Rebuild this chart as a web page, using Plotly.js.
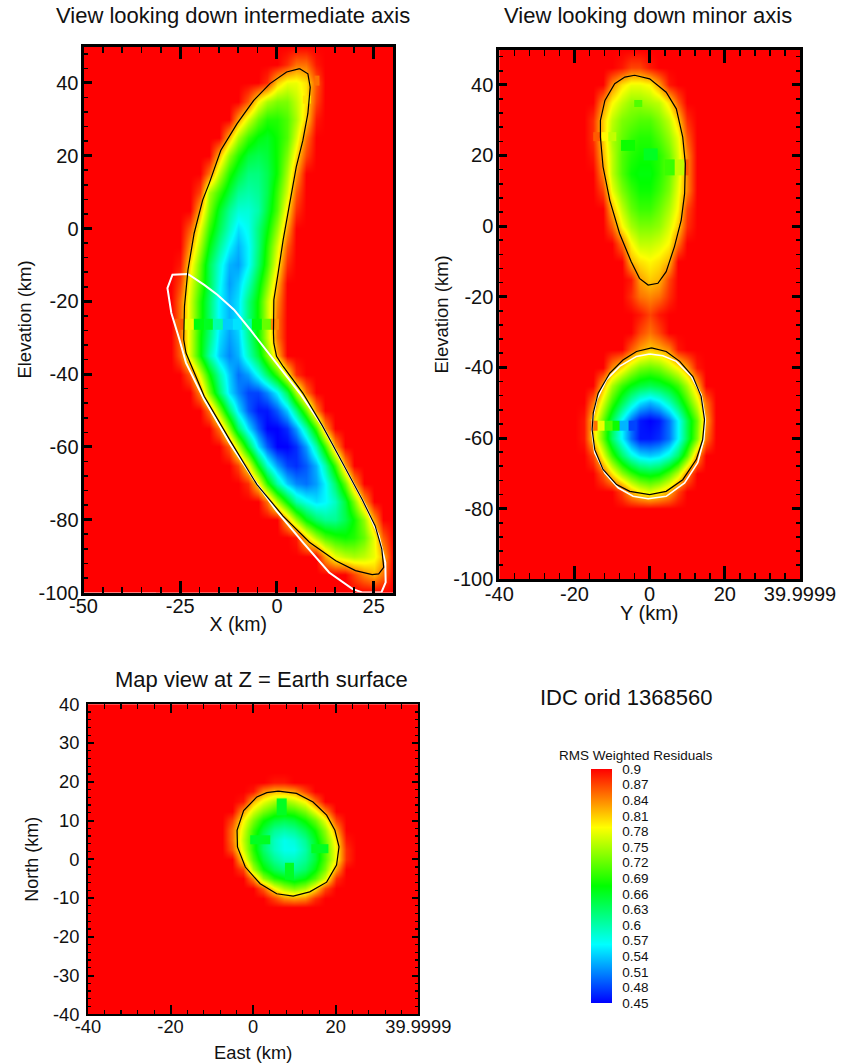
<!DOCTYPE html>
<html><head><meta charset="utf-8">
<script src="https://cdn.plot.ly/plotly-3.0.1.min.js"></script>
<style>html,body{margin:0;padding:0;background:#fff}</style></head>
<body><div id="chart" style="width:850px;height:1063px"></div>
<script>
// Colour legend
const legendTicks = [0.9,0.87,0.84,0.81,0.78,0.75,0.72,0.69,0.66,0.63,0.6,0.57,0.54,0.51,0.48,0.45];
const legendTitle = 'RMS Weighted Residuals';
const rainbow = [[0,'#0000ff'],[0.25,'#00ffff'],[0.5,'#00ff00'],[0.75,'#ffff00'],[1,'#ff0000']];

// Panel 1: X / elevation, residuals x100
const p1X = [-30,-27.5,-25,-22.5,-20,-17.5,-15,-12.5,-10,-7.5,-5,-2.5,0,2.5,5,7.5,10,12.5,15,17.5,20,22.5,25,27.5,30];
const p1Y = [50,45,40,35,30,25,20,15,10,5,0,-5,-10,-15,-20,-25,-30,-35,-40,-45,-50,-55,-60,-65,-70,-75,-80,-85,-90,-95,-100];
const p1Z = [
[90,90,90,90,90, 90,90,90,90,90, 90,90,90,90,90, 90,90,90,90,90, 90,90,90,90,90],
[90,90,90,90,90, 90,90,90,90,90, 90,90,90,88,85, 85,89,90,90,90, 90,90,90,90,90],
[90,90,90,90,90, 90,90,90,90,90, 90,88,81,78,78, 80,86,90,90,90, 90,90,90,90,90],
[90,90,90,90,90, 90,90,90,90,86, 79,75,73,73,76, 80,87,90,90,90, 90,90,90,90,90],
[90,90,90,90,90, 90,90,90,83,77, 72,69,69,71,75, 81,89,90,90,90, 90,90,90,90,90],
[90,90,90,90,90, 90,90,82,75,70, 67,66,68,71,77, 85,90,90,90,90, 90,90,90,90,90],
[90,90,90,90,90, 90,82,74,69,65, 64,65,68,73,80, 87,90,90,90,90, 90,90,90,90,90],
[90,90,90,90,90, 85,76,69,65,62, 62,64,68,75,83, 90,90,90,90,90, 90,90,90,90,90],
[90,90,90,90,87, 75,70,65,61,60, 61,64,70,77,86, 90,90,90,90,90, 90,90,90,90,90],
[90,90,90,90,82, 73,66,61,58,58, 60,65,71,80,88, 90,90,90,90,90, 90,90,90,90,90],
[90,90,90,86,78, 70,64,59,55,57, 62,67,74,83,90, 90,90,90,90,90, 90,90,90,90,90],
[90,90,90,83,75, 67,61,56,53,56, 62,69,77,86,90, 90,90,90,90,90, 90,90,90,90,90],
[90,90,89,80,72, 64,58,53,52,56, 63,70,79,88,90, 90,90,90,90,90, 90,90,90,90,90],
[90,90,87,78,71, 64,57,52,54,59, 66,73,82,90,90, 90,90,90,90,90, 90,90,90,90,90],
[90,90,85,77,69, 63,56,53,55,62, 68,76,84,90,90, 90,90,90,90,90, 90,90,90,90,90],
[90,90,85,77,69, 63,56,53,55,62, 68,76,85,90,90, 90,90,90,90,90, 90,90,90,90,90],
[90,90,85,77,68, 62,55,52,54,61, 68,76,85,90,90, 90,90,90,90,90, 90,90,90,90,90],
[90,90,86,77,68, 60,54,51,53,59, 65,73,82,90,90, 90,90,90,90,90, 90,90,90,90,90],
[90,90,90,86,77, 68,60,54,50,52, 57,63,70,79,88, 90,90,90,90,90, 90,90,90,90,90],
[90,90,90,90,84, 73,63,55,51,48, 48,51,56,64,75, 85,90,90,90,90, 90,90,90,90,90],
[90,90,90,90,90, 85,74,63,55,49, 46,46,49,54,62, 72,84,90,90,90, 90,90,90,90,90],
[90,90,90,90,90, 90,85,74,63,55, 49,45,45,47,52, 60,70,83,90,90, 90,90,90,90,90],
[90,90,90,90,90, 90,90,86,76,65, 55,49,45,45,47, 52,60,70,83,90, 90,90,90,90,90],
[90,90,90,90,90, 90,90,90,87,79, 67,58,52,48,47, 49,53,60,70,83, 90,90,90,90,90],
[90,90,90,90,90, 90,90,90,90,88, 80,69,60,54,51, 50,52,56,63,72, 83,90,90,90,90],
[90,90,90,90,90, 90,90,90,90,90, 90,85,75,67,60, 57,55,56,59,65, 73,83,90,90,90],
[90,90,90,90,90, 90,90,90,90,90, 90,90,90,82,74, 67,63,61,61,64, 68,74,83,90,90],
[90,90,90,90,90, 90,90,90,90,90, 90,90,90,90,89, 81,75,71,69,68, 69,72,78,86,90],
[90,90,90,90,90, 90,90,90,90,90, 90,90,90,90,90, 90,90,83,78,76, 75,76,78,82,90],
[90,90,90,90,90, 90,90,90,90,90, 90,90,90,90,90, 90,90,90,90,90, 87,84,82,85,90],
[90,90,90,90,90, 90,90,90,90,90, 90,90,90,90,90, 90,90,90,90,90, 90,90,90,90,90]
];
const p1BlackX = [5.9,2.5,-1.8,-6,-10.3,-14.5,-17.5,-19.2,-21.4,-23,-23.9,-24.1,-23.5,-18.8,-12,-5.2,1.6,8.4,15.2,20.3,24.6,26.3,27.6,27.1,25.4,22,16.9,11.8,6.7,1.6,-0.1,-0.8,-0.9,-0.8,0.3,1.6,3.3,5,6.7,8,8.6,8,5.9];
const p1BlackY = [43.9,43,39.8,35.2,28.8,21.5,12.4,7.8,-1.3,-11.4,-21.4,-30.5,-34.2,-46.1,-58.4,-70.3,-79,-86.2,-91.3,-94,-95.1,-94.9,-93.1,-88.1,-81.7,-74.4,-64.3,-54.3,-45.2,-37.9,-35.1,-31.5,-28.7,-19.6,-12.3,-3.2,6.9,16.9,24.2,31.6,38.8,42.5,43.9];
const p1WhiteX = [-23,-27,-28.3,-27.3,-25.2,-23.5,-18.8,-12,-6,-0.1,6.7,13.5,19.5,22,27,28.1,28,26.3,22.9,17.8,11.8,5.9,-0.1,-6.9,-11.1,-15.4,-18.8,-23];
const p1WhiteY = [-12.5,-12.7,-16.4,-23.2,-30.5,-36.9,-47,-59.3,-68.9,-77.6,-86.2,-94.5,-99,-100,-100,-97.2,-91.7,-84.4,-76.2,-66.2,-54.3,-45.2,-36.9,-27.8,-22.3,-18.2,-15.5,-12.5];
// Blocky lines and cells that stand out from the smooth field (edges, then value)
const p1StripX = [-26.4,-24,-21.5,-19,-16.5,-14,-11.5,-9,-6.5,-4,-1.5,0.5];
const p1StripY = [-27.8,-24.8];
const p1StripZ = [[86,78,67,66,60,54,55,60,67,72,84]];
const p1Cell1X = [9.7,11.1], p1Cell1Y = [39.3,42], p1Cell1Z = [[85]];
const p1Cell2X = [6.7,8.7], p1Cell2Y = [34.3,36.5], p1Cell2Z = [[80]];

// Panel 2: Y / elevation, residuals x100
const p2X = [-20,-17.5,-15,-12.5,-10,-7.5,-5,-2.5,0,2.5,5,7.5,10,12.5,15,17.5,20];
const p2Y = [50,45,40,35,30,25,20,15,10,5,0,-5,-10,-15,-20,-25,-30,-35,-40,-45,-50,-55,-60,-65,-70,-75,-80];
const p2Z = [
[90,90,90,90,90,90,90,90,90,90,90,90,90,90,90,90,90],
[90,90,90,90,90,89,87,87,89,90,90,90,90,90,90,90,90],
[90,90,90,90,84,80,78,78,79,83,89,90,90,90,90,90,90],
[90,90,90,84,79,76,74,74,75,76,80,86,90,90,90,90,90],
[90,90,88,81,76,73,72,71,71,73,76,81,88,90,90,90,90],
[90,90,88,81,75,72,70,69,69,71,74,78,86,90,90,90,90],
[90,90,89,82,76,71,69,68,68,69,72,77,84,90,90,90,90],
[90,90,90,84,76,71,68,67,67,69,72,77,84,90,90,90,90],
[90,90,90,87,78,73,70,68,68,70,73,78,84,90,90,90,90],
[90,90,90,90,82,76,72,70,70,72,75,79,87,90,90,90,90],
[90,90,90,90,86,79,75,73,73,74,77,81,88,90,90,90,90],
[90,90,90,90,90,85,79,76,76,77,79,85,90,90,90,90,90],
[90,90,90,90,90,90,82,80,79,80,82,90,90,90,90,90,90],
[90,90,90,90,90,90,89,83,81,82,87,90,90,90,90,90,90],
[90,90,90,90,90,90,88,85,84,85,88,90,90,90,90,90,90],
[90,90,90,90,90,90,90,89,87,89,90,90,90,90,90,90,90],
[90,90,90,90,90,90,90,87,85,87,90,90,90,90,90,90,90],
[90,90,90,90,90,90,86,83,81,82,84,89,90,90,90,90,90],
[90,90,90,90,84,80,76,73,72,73,76,79,83,89,90,90,90],
[90,90,90,82,75,70,67,65,64,65,67,70,75,82,90,90,90],
[90,90,85,77,70,64,59,55,53,55,59,64,70,77,85,90,90],
[90,89,81,72,64,56,50,46,45,46,50,56,64,72,83,90,90],
[90,89,81,72,63,56,50,46,46,47,50,56,64,73,85,90,90],
[90,90,87,78,70,63,58,55,54,55,58,63,71,83,90,90,90],
[90,90,90,86,80,74,70,67,66,67,71,76,84,90,90,90,90],
[90,90,90,90,90,87,82,79,77,79,82,87,90,90,90,90,90],
[90,90,90,90,90,90,90,90,90,90,90,90,90,90,90,90,90]
];
const p2UpperX = [-4,0,4.4,7.1,8.8,9.5,9.3,8.4,6.6,4.4,2.2,-0.4,-2.7,-4.9,-8,-10.6,-12.4,-13.1,-13.1,-11.9,-9.3,-6.6,-4];
const p2UpperY = [42.7,41.7,37.9,33.2,25.2,17.7,9.2,1.7,-5.8,-12.9,-16.2,-16.7,-14.8,-10.1,-2.1,7.3,16.8,25.2,29.9,35.6,40.3,42.2,42.7];
const p2LowerX = [0.5,-3.5,-7.1,-10.6,-13.7,-15,-15.3,-14.6,-12.4,-8.8,-5.3,0,4.4,8.8,12.4,14.1,14.6,13.7,11.5,8,4.4,0.5];
const p2LowerY = [-34.5,-35.5,-37.9,-41.6,-47.3,-52.9,-57.6,-63.3,-68.9,-73.2,-75.1,-76,-75.1,-71.8,-66.1,-60.5,-54.8,-48.2,-42.6,-38.3,-35.5,-34.5];
const p2WhiteX = [0,-3.5,-8,-11.5,-14.1,-15.2,-15.3,-14.6,-11.9,-8.4,-4.4,-0.4,4.4,9.3,12.8,14.4,14.8,13.7,11.1,7.1,3.5,0];
const p2WhiteY = [-36.2,-36.9,-39.7,-43.5,-49.2,-54.8,-58.6,-64.2,-69.9,-74.1,-76.5,-77.2,-76.5,-72.7,-67,-60.5,-54.8,-47.7,-42.6,-38.3,-36.7,-36.2];
const p2StripX = [-16,-14,-12,-10,-8,-5.7,-3.4];
const p2StripY = [-58,-55.1];
const p2StripZ = [[85,78,71,68,53,48]];
const p2Band1X = [-15,-13,-11,-8.8], p2Band1Y = [24,26.6], p2Band1Z = [[86,79,76]];
const p2Band2X = [4,6.6,9.3,10.5], p2Band2Y = [14.5,18.9], p2Band2Z = [[70,76,86]];
const p2Cell1X = [-7.6,-3.9], p2Cell1Y = [21.4,24.4], p2Cell1Z = [[68]];
const p2Cell2X = [-1.6,2.2], p2Cell2Y = [18.6,22], p2Cell2Z = [[66]];
const p2Cell3X = [-4.1,-2], p2Cell3Y = [33.7,35.7], p2Cell3Z = [[71]];

// Panel 3: map view, residuals x100
const p3X = [-7.5,-5,-2.5,0,2.5,5,7.5,10,12.5,15,17.5,20,22.5,25];
const p3Y = [22.5,20,17.5,15,12.5,10,7.5,5,2.5,0,-2.5,-5,-7.5,-10,-12.5];
const p3Z = [
[90,90,90,90,90,90,90,90,90,90,90,90,90,90],
[90,90,90,90,90,89,89,90,90,90,90,90,90,90],
[90,90,90,89,84,82,82,83,87,90,90,90,90,90],
[90,90,89,82,78,75,74,76,79,85,90,90,90,90],
[90,90,83,77,73,70,69,70,73,78,84,90,90,90],
[90,87,79,73,68,65,64,65,68,72,78,87,90,90],
[90,85,77,70,65,61,60,61,64,68,74,83,90,90],
[90,85,76,69,63,59,57,58,61,66,72,80,89,90],
[90,86,77,69,63,59,57,57,60,65,71,79,88,90],
[90,90,80,71,65,61,59,59,61,65,71,79,88,90],
[90,90,87,75,68,64,62,61,63,67,73,83,90,90],
[90,90,90,84,74,69,67,65,67,71,77,88,90,90],
[90,90,90,90,86,79,75,73,75,80,87,90,90,90],
[90,90,90,90,90,87,84,83,84,88,90,90,90,90],
[90,90,90,90,90,90,90,90,90,90,90,90,90,90]
];
const p3BlackX = [6.1,10.5,14.5,17.8,19.8,20.8,20.2,17.8,13.7,9.7,5.7,1.7,-1.9,-3.8,-3.9,-2.3,0.9,3.3,6.1];
const p3BlackY = [17.6,17,14.8,11.4,7.5,3.2,-1.5,-5.9,-8.4,-9.5,-8.9,-6.3,-2,3.2,7.5,12.6,16.1,17.2,17.6];
const p3Cell1X = [5.7,8.1], p3Cell1Y = [11.4,15.7], p3Cell1Z = [[66]];
const p3Cell2X = [-0.7,4.1], p3Cell2Y = [3.9,6.2], p3Cell2Z = [[66]];
const p3Cell3X = [14.1,18.2], p3Cell3Y = [1.6,3.9], p3Cell3Z = [[66]];
const p3Cell4X = [7.7,9.9], p3Cell4Y = [-5.4,-0.9], p3Cell4Z = [[66]];

// Tick labels
const p1XTicks = [-50,-25,0,25];
const p1YTicks = [40,20,0,-20,-40,-60,-80,-100];
const p2XTicks = [-40,-20,0,20,40];
const p2XLabels = ['-40','-20','0','20','39.9999'];
const p3YTicks = [40,30,20,10,0,-10,-20,-30,-40];

const W = 850, H = 1063, FONT = '"Liberation Sans", Arial, sans-serif';
const scaled = z => z.map(r => r.map(v => v / 100));
const heat = (x, y, z, xa, ya, extra) => Object.assign({type:'heatmap', x, y, z:scaled(z), xaxis:xa, yaxis:ya,
  zmin:0.45, zmax:0.9, colorscale:rainbow, zsmooth:'best', showscale:false, hoverinfo:'skip'}, extra||{});
const block = (x, y, z, xa, ya) => heat(x, y, z, xa, ya, {zsmooth:false});
const line = (x, y, xa, ya, color, width) => ({type:'scatter', mode:'lines', x, y, xaxis:xa, yaxis:ya,
  line:{color, width}, hoverinfo:'skip', showlegend:false});

const traces = [
  heat(p1X, p1Y, p1Z, 'x', 'y', {showscale:true, colorbar:{
    x:591/W, xanchor:'left', y:1-769/H, yanchor:'top', len:234, lenmode:'pixels', thickness:21, thicknessmode:'pixels',
    outlinewidth:0, xpad:0, ypad:0, tickmode:'array', tickvals:legendTicks, ticktext:legendTicks.map(String),
    ticks:'outside', ticklen:8, tickcolor:'rgba(0,0,0,0)', tickfont:{size:13.5, color:'#111', family:FONT}}}),
  block(p1StripX, p1StripY, p1StripZ, 'x', 'y'),
  block(p1Cell1X, p1Cell1Y, p1Cell1Z, 'x', 'y'),
  block(p1Cell2X, p1Cell2Y, p1Cell2Z, 'x', 'y'),
  line(p1WhiteX, p1WhiteY, 'x', 'y', '#ffffff', 2),
  line(p1BlackX, p1BlackY, 'x', 'y', '#000000', 1.2),
  heat(p2X, p2Y, p2Z, 'x2', 'y2'),
  block(p2StripX, p2StripY, p2StripZ, 'x2', 'y2'),
  block(p2Band1X, p2Band1Y, p2Band1Z, 'x2', 'y2'),
  block(p2Band2X, p2Band2Y, p2Band2Z, 'x2', 'y2'),
  block(p2Cell1X, p2Cell1Y, p2Cell1Z, 'x2', 'y2'),
  block(p2Cell2X, p2Cell2Y, p2Cell2Z, 'x2', 'y2'),
  block(p2Cell3X, p2Cell3Y, p2Cell3Z, 'x2', 'y2'),
  line(p2WhiteX, p2WhiteY, 'x2', 'y2', '#ffffff', 1.6),
  line(p2UpperX, p2UpperY, 'x2', 'y2', '#000000', 1.2),
  line(p2LowerX, p2LowerY, 'x2', 'y2', '#000000', 1.2),
  heat(p3X, p3Y, p3Z, 'x3', 'y3'),
  block(p3Cell1X, p3Cell1Y, p3Cell1Z, 'x3', 'y3'),
  block(p3Cell2X, p3Cell2Y, p3Cell2Z, 'x3', 'y3'),
  block(p3Cell3X, p3Cell3Y, p3Cell3Z, 'x3', 'y3'),
  block(p3Cell4X, p3Cell4Y, p3Cell4Z, 'x3', 'y3'),
  line(p3BlackX, p3BlackY, 'x3', 'y3', '#000000', 1.2)
];

function axis(o) {
  const a = {
    domain:o.domain, range:o.range, anchor:o.anchor, tickmode:'array', tickvals:o.ticks,
    ticktext:o.labels || o.ticks.map(String), ticks:'inside', ticklen:o.len, tickwidth:o.lw, tickcolor:'#000',
    showgrid:false, zeroline:false, showline:true, linecolor:'#000', linewidth:o.lw, mirror:o.mirror,
    ticklabelstandoff:o.labelOff, tickfont:{size:o.font, color:'#111', family:FONT}, tickangle:0,
    minor:{tickmode:'linear', tick0:o.range[0], dtick:o.minor, ticks:'inside', ticklen:o.len/2, tickwidth:o.lw*0.55, tickcolor:'#000', showgrid:false}
  };
  if (o.title) a.title = {text:o.title, font:{size:o.titleSize, color:'#111', family:FONT}, standoff:o.standoff};
  return a;
}

const layout = {
  width:W, height:H, margin:{l:0,r:0,t:0,b:0}, paper_bgcolor:'#fff', plot_bgcolor:'#ff0000', showlegend:false,
  font:{family:FONT, color:'#111'},
  xaxis:  axis({domain:[83.5/W,393/W], range:[-50,30], anchor:'y', ticks:p1XTicks, minor:5, len:12, lw:3, mirror:'ticks', font:20, labelOff:-7, title:'X (km)', titleSize:19.5, standoff:2}),
  yaxis:  axis({domain:[1-592.5/H,1-46.5/H], range:[-100,50], anchor:'x', ticks:p1YTicks, minor:4, len:8, lw:3, mirror:true, font:20, labelOff:-2, title:'Elevation (km)', titleSize:18.5, standoff:2}),
  xaxis2: axis({domain:[499.3/W,800/W], range:[-40,40], anchor:'y2', ticks:p2XTicks, labels:p2XLabels, minor:4, len:13, lw:3, mirror:'ticks', font:20, labelOff:-5}),
  yaxis2: axis({domain:[1-579.3/H,1-49.5/H], range:[-100,50], anchor:'x2', ticks:p1YTicks, minor:4, len:8, lw:3, mirror:'ticks', font:20, labelOff:-1, title:'Elevation (km)', titleSize:18.5, standoff:0}),
  xaxis3: axis({domain:[88/W,418.3/W], range:[-40,40], anchor:'y3', ticks:p2XTicks, labels:p2XLabels, minor:4, len:9, lw:2, mirror:'ticks', font:18.3, labelOff:-5, title:'East (km)', titleSize:18.3, standoff:17}),
  yaxis3: axis({domain:[1-1014.3/H,1-704.3/H], range:[-40,40], anchor:'x3', ticks:p3YTicks, minor:2, len:6, lw:2, mirror:'ticks', font:18.3, labelOff:3, title:'North (km)', titleSize:18, standoff:10}),
  annotations: [
    ['View looking down intermediate axis', 233, 16, 22],
    ['View looking down minor axis', 648, 16, 22],
    ['Map view at Z = Earth surface', 261, 679, 22],
    ['IDC orid 1368560', 625.5, 697, 22],
    ['Y (km)', 649, 613, 20],
    [legendTitle, 636, 755, 13.5]
  ].map(a => ({text:a[0], xref:'paper', yref:'paper', x:a[1]/W, y:1-a[2]/H, xanchor:'center', yanchor:'middle',
    showarrow:false, font:{size:a[3], color:'#111', family:FONT}}))
};
Plotly.newPlot('chart', traces, layout, {displayModeBar:false, staticPlot:true});
</script></body></html>
